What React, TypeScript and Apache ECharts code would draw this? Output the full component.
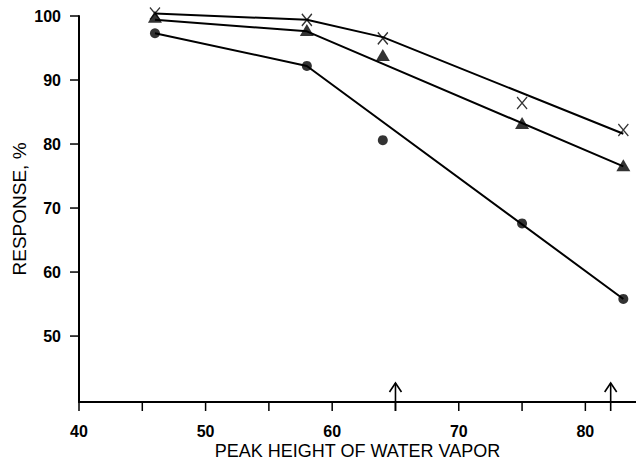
import React, { useEffect, useRef } from "react";
import * as echarts from "echarts";

const xValues = [46, 58, 64, 75, 83];
const circleResp = [97.3, 92.2, 80.6, 67.6, 55.8];
const triangleResp = [99.9, 97.8, 93.9, 83.3, 76.7];
const crossResp = [100.4, 99.4, 96.5, 86.4, 82.2];

const circleFitX = [46, 58, 83];
const circleFit = [97.3, 92.2, 55.8];
const triangleFitX = [46, 58, 83];
const triangleFit = [99.4, 97.6, 76.5];
const crossFitX = [46, 58, 64, 83];
const crossFit = [100.4, 99.4, 96.7, 81.6];

const arrowX = [65, 82];

const xTicks = [40, 45, 50, 55, 60, 65, 70, 75, 80];
const yTicks = [50, 60, 70, 80, 90, 100];

const X_MIN = 40;
const X_MAX = 84;
const X_TICK = 10;
const Y_MIN = 39.7;
const Y_MAX = 100;

const pairs = (xs: number[], ys: number[]) => xs.map((x, i) => [x, ys[i]]);

export default function App() {
  const ref = useRef<HTMLDivElement>(null);
  useEffect(() => {
    if (!ref.current) return;
    const chart = echarts.init(ref.current, null, { renderer: "svg" });
    const font = "Liberation Sans";
    const lineStyle = { color: "#000", width: 2 };
    const tickStyle = { stroke: "#000", lineWidth: 1.5 };
    chart.setOption({
      animation: false,
      backgroundColor: "#fff",
      grid: { left: 79, right: 0, top: 16, bottom: 60, outerBoundsMode: "none", containLabel: false },
      xAxis: {
        type: "value",
        min: X_MIN,
        max: X_MAX,
        interval: X_TICK,
        name: "PEAK HEIGHT OF WATER VAPOR",
        nameLocation: "middle",
        nameGap: 42,
        nameMoveOverlap: false,
        nameTextStyle: { fontFamily: font, fontSize: 18, lineHeight: 14, color: "#000" },
        axisLine: { show: true, lineStyle: { color: "#000", width: 2 } },
        axisTick: { show: false },
        axisLabel: {
          margin: 21,
          fontFamily: font,
          fontSize: 16,
          fontWeight: "bold",
          color: "#000",
          showMaxLabel: false,
        },
        splitLine: { show: false },
      },
      yAxis: {
        type: "value",
        min: Y_MIN,
        max: Y_MAX,
        name: "RESPONSE, %",
        nameLocation: "middle",
        nameGap: 50,
        nameMoveOverlap: false,
        nameRotate: 90,
        nameTextStyle: { fontFamily: font, fontSize: 19, color: "#000" },
        axisLine: { show: true, lineStyle: { color: "#000", width: 2 } },
        axisTick: { show: false },
        axisLabel: {
          customValues: yTicks,
          margin: 18,
          fontFamily: font,
          fontSize: 16,
          fontWeight: "bold",
          color: "#000",
        },
        splitLine: { show: false },
      },
      series: [
        { type: "line", data: pairs(circleFitX, circleFit), showSymbol: false, clip: false, lineStyle },
        { type: "line", data: pairs(triangleFitX, triangleFit), showSymbol: false, clip: false, lineStyle },
        { type: "line", data: pairs(crossFitX, crossFit), showSymbol: false, clip: false, lineStyle },
        {
          type: "scatter",
          data: pairs(xValues, circleResp),
          symbol: "circle",
          symbolSize: 10,
          clip: false,
          itemStyle: { color: "#000" },
        },
        {
          type: "scatter",
          data: pairs(xValues, triangleResp),
          symbol: "triangle",
          symbolSize: [14, 12],
          clip: false,
          itemStyle: { color: "#000" },
        },
        {
          type: "scatter",
          data: pairs(xValues, crossResp),
          symbol: "path://M0,0L10,12M10,0L0,12",
          symbolSize: [10, 12],
          clip: false,
          itemStyle: { color: "none", borderColor: "#000", borderWidth: 1.4 },
        },
        {
          type: "custom",
          clip: false,
          silent: true,
          data: xTicks.map((x) => [x]),
          renderItem: (params: any, api: any) => {
            const p = api.coord([api.value(0), Y_MIN]);
            return { type: "line", shape: { x1: p[0], y1: p[1], x2: p[0], y2: p[1] + 9 }, style: tickStyle };
          },
        },
        {
          type: "custom",
          clip: false,
          silent: true,
          data: yTicks.map((y) => [X_MIN, y]),
          renderItem: (params: any, api: any) => {
            const p = api.coord([api.value(0), api.value(1)]);
            return { type: "line", shape: { x1: p[0] - 9, y1: p[1], x2: p[0], y2: p[1] }, style: tickStyle };
          },
        },
        {
          type: "custom",
          clip: false,
          silent: true,
          data: arrowX.map((x) => [x]),
          renderItem: (params: any, api: any) => {
            const p = api.coord([api.value(0), Y_MIN]);
            const bx = p[0];
            const by = p[1];
            return {
              type: "group",
              children: [
                { type: "line", shape: { x1: bx, y1: by + 9, x2: bx, y2: by - 19 }, style: { stroke: "#000", lineWidth: 1.6 } },
                {
                  type: "polyline",
                  shape: { points: [[bx - 6, by - 10], [bx, by - 19], [bx + 6, by - 10]] },
                  style: { stroke: "#000", lineWidth: 1.6, fill: "none" },
                },
              ],
            };
          },
        },
      ],
    });
    return () => chart.dispose();
  }, []);
  return <div ref={ref} style={{ position: "absolute", left: 0, top: 0, width: 636, height: 462 }} />;
}
